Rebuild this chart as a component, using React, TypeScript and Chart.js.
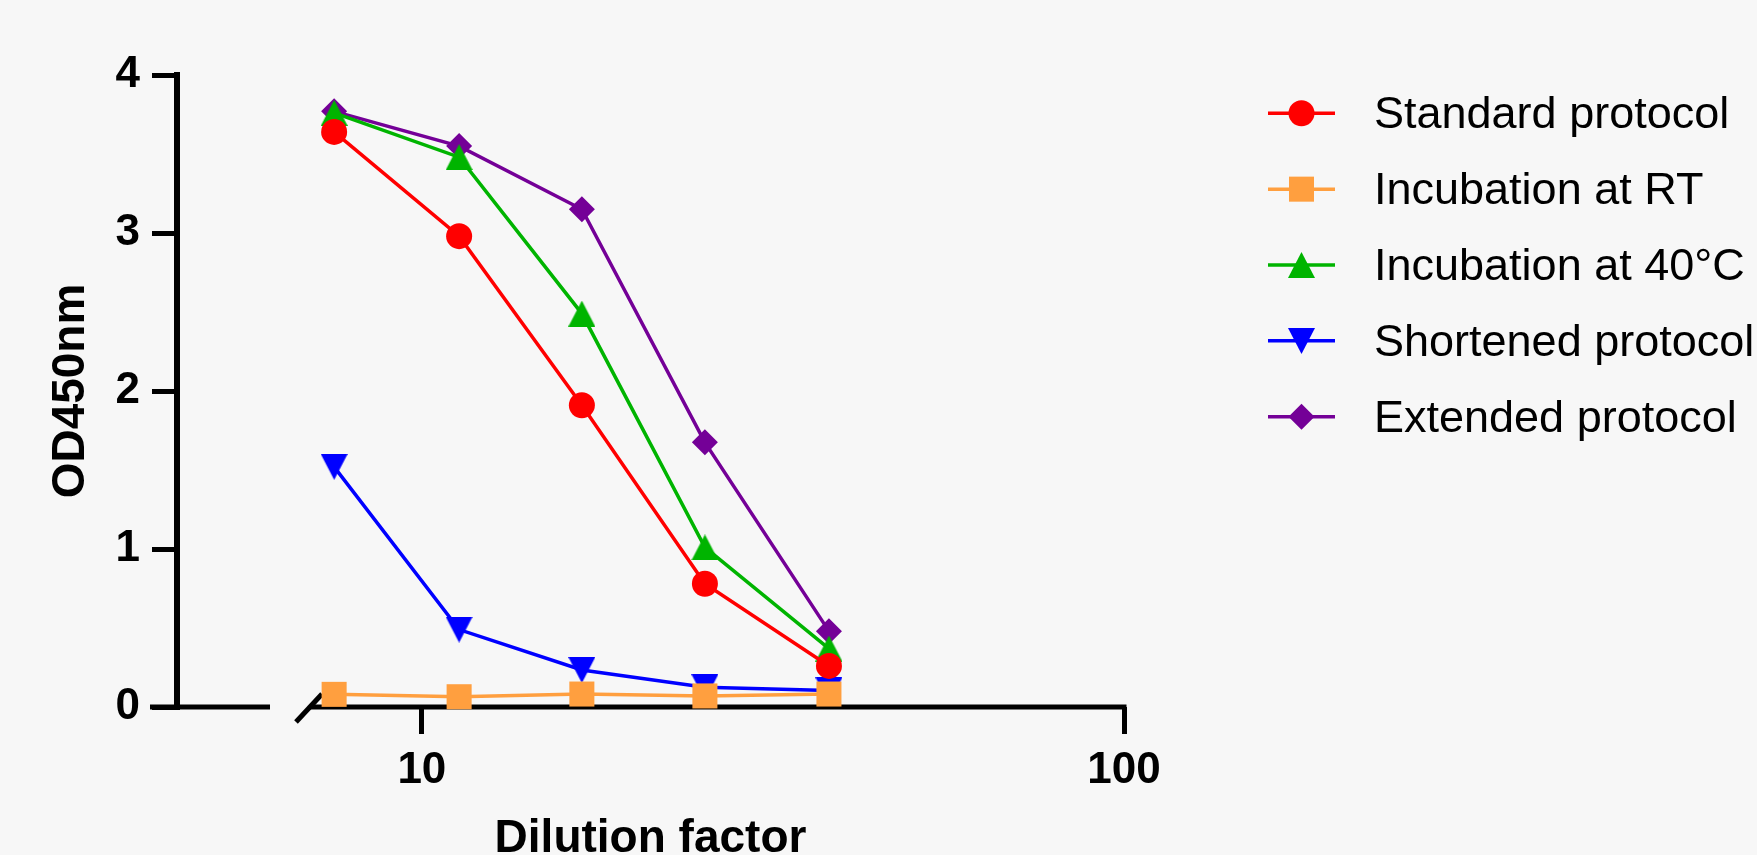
import React, { useEffect, useRef } from "react";
import { Chart, registerables } from "chart.js";

Chart.register(...registerables);

// ---- data ----
const dilutionFactors = [7.5, 11.3, 16.9, 25.3, 38];
const standardProtocol = [3.64, 2.98, 1.91, 0.78, 0.26];
const incubationRT = [0.08, 0.065, 0.082, 0.07, 0.082];
const incubation40C = [3.76, 3.48, 2.49, 1.01, 0.37];
const shortenedProtocol = [1.52, 0.49, 0.234, 0.125, 0.105];
const extendedProtocol = [3.77, 3.55, 3.15, 1.675, 0.48];

const seriesLabels = [
  "Standard protocol",
  "Incubation at RT",
  "Incubation at 40°C",
  "Shortened protocol",
  "Extended protocol",
];
const seriesValues = [standardProtocol, incubationRT, incubation40C, shortenedProtocol, extendedProtocol];

const xTickValues = [10, 100];
const yTickValues = [0, 1, 2, 3, 4];
const xAxisTitle = "Dilution factor";
const yAxisTitle = "OD450nm";

// ---- styles ----
const FONT = "'Liberation Sans', Arial, Helvetica, sans-serif";
const seriesColors = ["#ff0000", "#ff9f3f", "#00b400", "#0000ff", "#740097"];
const seriesPointRadius = [13, 17.7, 13, 13, 13];

function makeTriangle(color: string, down: boolean): HTMLCanvasElement {
  const w = 27;
  const h = 26;
  const c = document.createElement("canvas");
  c.width = w;
  c.height = h;
  const g = c.getContext("2d");
  if (g) {
    g.fillStyle = color;
    g.beginPath();
    if (down) {
      g.moveTo(0, 0);
      g.lineTo(w, 0);
      g.lineTo(w / 2, h);
    } else {
      g.moveTo(w / 2, 0);
      g.lineTo(w, h);
      g.lineTo(0, h);
    }
    g.closePath();
    g.fill();
  }
  return c;
}

function drawMarker(ctx: CanvasRenderingContext2D, style: any, r: number, x: number, y: number, color: string) {
  ctx.save();
  if (typeof style !== "string") {
    ctx.drawImage(style, Math.round(x - style.width / 2), Math.round(y - style.height / 2));
    ctx.restore();
    return;
  }
  ctx.fillStyle = color;
  ctx.beginPath();
  if (style === "circle") {
    ctx.arc(x, y, r, 0, Math.PI * 2);
  } else if (style === "rect") {
    const s = Math.SQRT1_2 * r;
    ctx.rect(x - s, y - s, 2 * s, 2 * s);
  } else if (style === "rectRot") {
    ctx.moveTo(x - r, y);
    ctx.lineTo(x, y - r);
    ctx.lineTo(x + r, y);
    ctx.lineTo(x, y + r);
    ctx.closePath();
  }
  ctx.fill();
  ctx.restore();
}

const brokenAxisPlugin = {
  id: "brokenAxis",
  beforeDatasetsDraw(chart: any) {
    const { ctx, chartArea } = chart;
    const y = chartArea.bottom;
    ctx.save();
    ctx.strokeStyle = "#000";
    ctx.lineWidth = 5;
    ctx.lineCap = "butt";
    ctx.beginPath();
    ctx.moveTo(chartArea.left - 27, y);
    ctx.lineTo(chartArea.left + 93, y);
    ctx.moveTo(chartArea.left + 133, y);
    ctx.lineTo(chartArea.right + 2.5, y);
    ctx.stroke();
    ctx.beginPath();
    ctx.moveTo(chartArea.left + 119, y + 15);
    ctx.lineTo(chartArea.left + 145, y - 13);
    ctx.stroke();
    ctx.restore();
  },
};

const legendPlugin = {
  id: "lineMarkerLegend",
  afterDraw(chart: any) {
    const { ctx } = chart;
    const x0 = 1268;
    const x1 = 1335;
    const xm = 1301.5;
    const xt = 1374;
    const yStart = 113.3;
    const step = 75.85;
    chart.data.datasets.forEach((ds: any, i: number) => {
      const y = yStart + i * step;
      ctx.save();
      ctx.strokeStyle = seriesColors[i];
      ctx.lineWidth = 3.5;
      ctx.beginPath();
      ctx.moveTo(x0, y);
      ctx.lineTo(x1, y);
      ctx.stroke();
      ctx.restore();
      drawMarker(ctx, ds.pointStyle, seriesPointRadius[i], xm, y, seriesColors[i]);
      ctx.save();
      ctx.fillStyle = "#000";
      ctx.font = `45px ${FONT}`;
      ctx.textAlign = "left";
      ctx.textBaseline = "middle";
      ctx.fillText(ds.label, xt, y + 2.5);
      ctx.restore();
    });
  },
};

export default function App() {
  const canvasRef = useRef<HTMLCanvasElement | null>(null);

  useEffect(() => {
    document.body.style.margin = "0";
    const canvas = canvasRef.current;
    if (!canvas) return;

    const pointStyles: any[] = [
      "circle",
      "rect",
      makeTriangle(seriesColors[2], false),
      makeTriangle(seriesColors[3], true),
      "rectRot",
    ];

    const datasets = seriesLabels.map((label, i) => ({
      label,
      data: dilutionFactors.map((x, j) => ({ x, y: seriesValues[i][j] })),
      borderColor: seriesColors[i],
      backgroundColor: seriesColors[i],
      borderWidth: 3.5,
      tension: 0,
      pointStyle: pointStyles[i],
      pointRadius: seriesPointRadius[i],
      pointBackgroundColor: seriesColors[i],
      pointBorderColor: seriesColors[i],
      pointBorderWidth: 0,
      pointHoverRadius: seriesPointRadius[i],
      clip: false as any,
    }));

    const chart = new Chart(canvas, {
      type: "line",
      data: { datasets: datasets as any },
      options: {
        animation: false,
        responsive: false,
        devicePixelRatio: 1,
        layout: { padding: { left: 0, top: 75, right: 633, bottom: 0 } },
        plugins: {
          legend: { display: false },
          tooltip: { enabled: false },
          title: { display: false },
        },
        scales: {
          x: {
            type: "logarithmic",
            position: "bottom",
            min: 4.48,
            max: 100,
            afterFit: (s: any) => {
              s.height = 148;
            },
            afterBuildTicks: (s: any) => {
              s.ticks = xTickValues.map((v) => ({ value: v }));
            },
            border: { display: false },
            grid: {
              display: true,
              drawOnChartArea: false,
              drawTicks: true,
              tickLength: 27,
              tickWidth: 5,
              tickColor: "#000",
              lineWidth: 5,
              color: "#000",
            },
            ticks: {
              autoSkip: false,
              maxRotation: 0,
              minRotation: 0,
              padding: 10,
              color: "#000",
              font: { family: FONT, size: 44, weight: "bold" },
              callback: (v: any) => String(v),
            },
            title: {
              display: true,
              text: xAxisTitle,
              color: "#000",
              font: { family: FONT, size: 46, weight: "bold", lineHeight: 0.7 },
              padding: { top: 0, bottom: 0 },
            },
          },
          y: {
            type: "linear",
            position: "left",
            min: 0,
            max: 4,
            afterFit: (s: any) => {
              s.width = 177;
            },
            afterBuildTicks: (s: any) => {
              s.ticks = yTickValues.map((v) => ({ value: v }));
            },
            border: { display: true, width: 6, color: "#000" },
            grid: {
              display: true,
              drawOnChartArea: false,
              drawTicks: true,
              tickLength: 25,
              tickWidth: 5,
              tickColor: "#000",
              lineWidth: 5,
              color: "#000",
            },
            ticks: {
              padding: 12,
              color: "#000",
              font: { family: FONT, size: 44, weight: "bold" },
              callback: (v: any) => String(v),
            },
            title: {
              display: true,
              text: yAxisTitle,
              color: "#000",
              font: { family: FONT, size: 46, weight: "bold", lineHeight: 1.2 },
              padding: { top: 44, bottom: 0 },
            },
          },
        },
      } as any,
      plugins: [brokenAxisPlugin, legendPlugin],
    });

    return () => {
      chart.destroy();
    };
  }, []);

  return (
    <div
      style={{
        position: "fixed",
        left: 0,
        top: 0,
        width: 1757,
        height: 855,
        background: "#f7f7f7",
        overflow: "hidden",
      }}
    >
      <canvas ref={canvasRef} width={1757} height={855} style={{ display: "block" }} />
    </div>
  );
}
